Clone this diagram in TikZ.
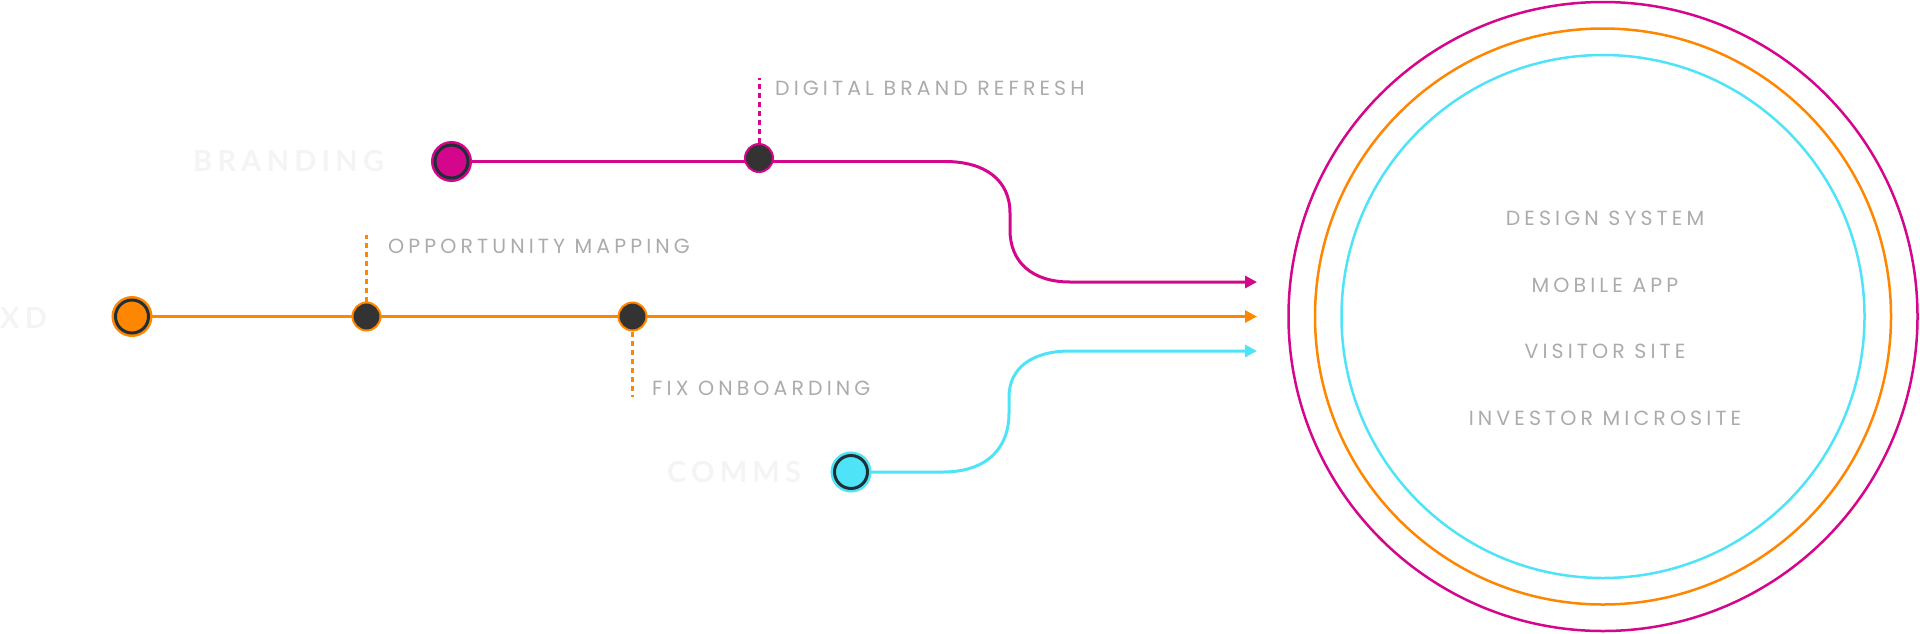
\documentclass[tikz,border=0pt]{standalone}
\usepackage{fontspec}
\usetikzlibrary{arrows.meta}
\newfontfamily\lblfont[LetterSpace=20]{Poppins}
\newfontfamily\faintfont[LetterSpace=18]{Lato}
\definecolor{cmag}{HTML}{D4068C}
\definecolor{corg}{HTML}{FF8600}
\definecolor{ccyn}{HTML}{4FE3F8}
\definecolor{cdark}{HTML}{333333}
\definecolor{cring}{HTML}{1E3036}
\definecolor{ctxt}{HTML}{ABABAB}
\definecolor{cfaint}{HTML}{F4F4F4}
\tikzset{
  startc/.style={circle, inner sep=0pt, minimum size=33pt, fill=#1, draw=cring, line width=3pt,
    preaction={draw=#1, line width=8pt}},
  dotc/.style={circle, inner sep=0pt, minimum size=28pt, fill=cdark, draw=#1, line width=2pt},
  flow/.style={draw=#1, line width=3pt},
  flowarr/.style={draw=#1, line width=3pt, -{Triangle[length=12pt,width=12pt]}},
  dashc/.style={draw=#1, line width=3pt, dash pattern=on 5pt off 4pt},
  lbl/.style={text=ctxt, font=\lblfont\fontsize{20.5}{24}\selectfont, inner sep=0pt},
  faint/.style={text=cfaint, font=\faintfont\bfseries\fontsize{29}{34}\selectfont, inner sep=0pt},
  ring/.style={circle, draw=#1, line width=2.5pt, inner sep=0pt}
}
\begin{document}
\begin{tikzpicture}[x=1pt,y=-1pt]
\useasboundingbox (0,0) rectangle (1920,633);
% big rings
\node[ring=cmag, minimum size=629pt] (ringM) at (1603,316.5) {};
\node[ring=corg, minimum size=576pt] (ringO) at (1603,316.5) {};
\node[ring=ccyn, minimum size=523pt] (ringC) at (1603,316.5) {};
\node[lbl] (t1) at (1605,218) {DESIGN SYSTEM};
\node[lbl] (t2) at (1605,285) {MOBILE APP};
\node[lbl] (t3) at (1605,351.5) {VISITOR SITE};
\node[lbl] (t4) at (1605,418) {INVESTOR MICROSITE};
% faint stream labels
\node[faint, anchor=west] (lb) at (193,161.5) {BRANDING};
\node[faint, anchor=east] (lx) at (47,318) {XD};
\node[faint, anchor=west] (lc) at (667,472) {COMMS};
% coordinates
\coordinate (m1) at (945,161.5);
\coordinate (m2) at (1010,213);
\coordinate (m3) at (1010,230);
\coordinate (m4) at (1070,282);
\coordinate (mend) at (1257,282);
\coordinate (oend) at (1257,316.5);
\coordinate (c1) at (1070,351);
\coordinate (c2) at (1009,397);
\coordinate (c3) at (1009,413);
\coordinate (c4) at (943,472);
\coordinate (cend) at (1257,351);
\coordinate (dm) at (759,78);
\coordinate (do1) at (366.5,235);
\coordinate (do2) at (632.5,397);
% flows
\draw[flow=cmag] (451.5,161.5) -- (m1);
\draw[flowarr=cmag] (m1) .. controls (985,161.5) and (1010,180) .. (m2) -- (m3)
   .. controls (1010,262) and (1032,282) .. (m4) -- (mend);
\draw[flowarr=corg] (132,316.5) -- (oend);
\draw[flowarr=ccyn] (851,472) -- (c4) .. controls (985,472) and (1009,450) .. (c3) -- (c2)
   .. controls (1009,368) and (1032,351) .. (c1) -- (cend);
% start circles
\node[startc=cmag] (sm) at (451.5,161.5) {};
\node[startc=corg] (so) at (132,316.5) {};
\node[startc=ccyn] (sc) at (851,472) {};
% milestones
\node[dotc=cmag] (dM) at (759,158) {};
\node[dotc=corg] (dO1) at (366.5,316.5) {};
\node[dotc=corg] (dO2) at (632.5,316.5) {};
\draw[dashc=cmag] (dM.north) -- (dm);
\draw[dashc=corg] (dO1.north) -- (do1);
\draw[dashc=corg] (dO2.south) -- (do2);
\node[lbl, anchor=west] (l1) at (775,88.5) {DIGITAL BRAND REFRESH};
\node[lbl, anchor=west] (l2) at (388,246.5) {OPPORTUNITY MAPPING};
\node[lbl, anchor=west] (l3) at (652,388) {FIX ONBOARDING};
\end{tikzpicture}
\end{document}
